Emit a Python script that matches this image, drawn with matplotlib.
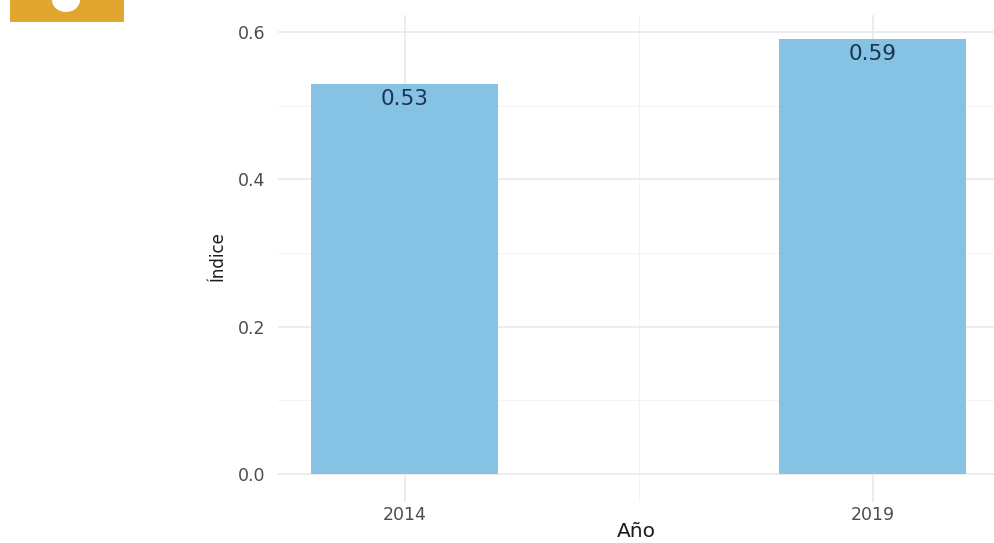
import matplotlib.pyplot as plt
from matplotlib.patches import Rectangle, Ellipse
from matplotlib.ticker import MultipleLocator

years = ['2014', '2019']
indice = [0.53, 0.59]
bar_labels = ['0.53', '0.59']
y_ticks = [0.0, 0.2, 0.4, 0.6]

W, H = 994, 543
fig = plt.figure(figsize=(W / 100, H / 100), dpi=100)

# panel box in pixels (left, top, right, bottom)
px_l, px_t, px_r, px_b = 278, 15, 994, 502
ax = fig.add_axes([px_l / W, 1 - px_b / H, (px_r - px_l) / W, (px_b - px_t) / H])

pos = list(range(1, len(years) + 1))
ax.bar(pos, indice, width=0.4, color='#86C2E3', zorder=3)
for x, v, lab in zip(pos, indice, bar_labels):
    ax.text(x, v - 0.007, lab, ha='center', va='top', fontsize=15.5,
            color='#1B3550', zorder=4)

ax.set_xlim(0.729, 2.259)
ax.set_ylim(-0.038, 0.623)
ax.set_xticks(pos)
ax.set_xticklabels(years)
ax.set_yticks(y_ticks)
ax.set_yticklabels([f'{t:.1f}' for t in y_ticks])
ax.xaxis.set_minor_locator(MultipleLocator(0.5))
ax.yaxis.set_minor_locator(MultipleLocator(0.1))

ax.grid(which='major', color='#EBEBEB', linewidth=1.3, zorder=0)
ax.grid(which='minor', color='#F3F3F3', linewidth=0.8, zorder=0)
ax.tick_params(which='both', length=0)
ax.tick_params(axis='y', labelsize=12.5, labelcolor='#4D4D4D', pad=9)
ax.tick_params(axis='x', labelsize=12.5, labelcolor='#4D4D4D', pad=3)
for s in ax.spines.values():
    s.set_visible(False)

ax.set_xlabel('Año', fontsize=14.5, color='#1A1A1A')
ax.xaxis.set_label_coords(0.5, -0.041)
ax.set_ylabel('Índice', fontsize=12, color='#1A1A1A')
ax.yaxis.set_label_coords(-0.071, 0.504)

# cut-off logo in the top left corner
fig.add_artist(Rectangle((10 / W, 1 - 22 / H), 114 / W, 22 / H,
                         transform=fig.transFigure, color='#E1A62F', lw=0))
fig.add_artist(Ellipse((66 / W, 1.0), 28 / W, 24 / H,
                       transform=fig.transFigure, color='white', lw=0))

fig.savefig('out.png', dpi=100)
